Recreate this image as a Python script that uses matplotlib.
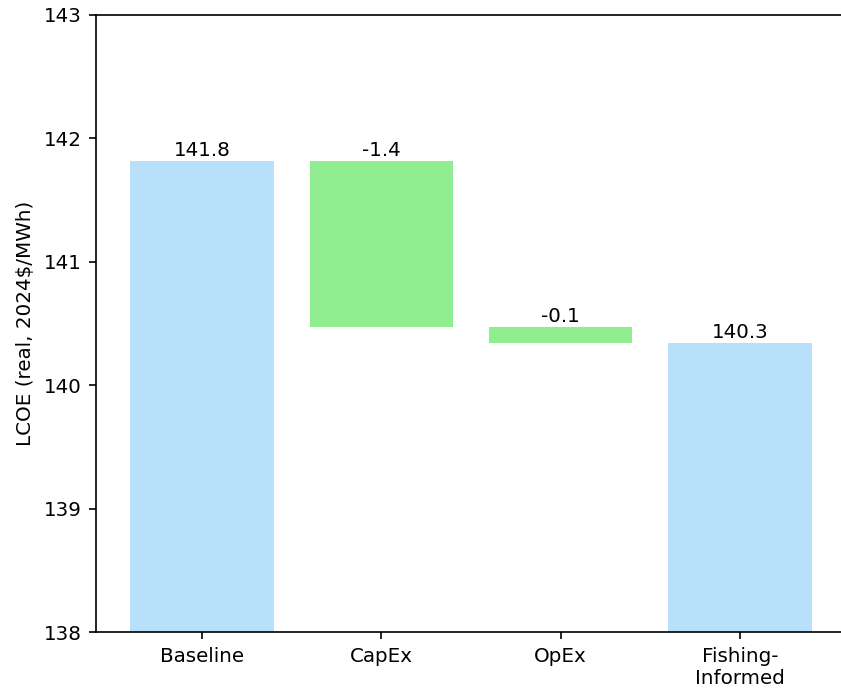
import matplotlib
matplotlib.use("Agg")
import matplotlib.pyplot as plt
import numpy as np

# LCOE waterfall: baseline, cost deltas, resulting case
categories = ["Baseline", "CapEx", "OpEx", "Fishing-\nInformed"]
baseline = 141.82
deltas = [-1.35, -0.13]
final = 140.34

blue = "#b9e0fa"
green = "#90ee90"

plt.rcParams["font.size"] = 9.55

fig = plt.figure(figsize=(841 / 150, 692 / 150), dpi=150)
ax = fig.add_axes([96 / 841, 60 / 692, 750 / 841, 617 / 692])

x = np.arange(len(categories))

# Build the floating bars
bottoms = []
heights = []
colors = []
labels = []
ymin = 138

bottoms.append(ymin)
heights.append(baseline - ymin)
colors.append(blue)
labels.append((baseline, f"{baseline:.1f}"))

level = baseline
for d in deltas:
    new = level + d
    bottoms.append(min(level, new))
    heights.append(abs(d))
    colors.append(green if d < 0 else "#f08080")
    labels.append((max(level, new), f"{d:.1f}"))
    level = new

bottoms.append(ymin)
heights.append(final - ymin)
colors.append(blue)
labels.append((final, f"{final:.1f}"))

ax.bar(x, heights, bottom=bottoms, color=colors, width=0.8)

for xi, (top, txt) in zip(x, labels):
    ax.annotate(txt, (xi, top), xytext=(0, 0.5), textcoords="offset points",
                ha="center", va="bottom")

ax.set_ylim(138, 143)
ax.set_xticks(x)
ax.set_xticklabels(categories)
ax.set_ylabel("LCOE (real, 2024$/MWh)")

fig.savefig("out.png", dpi=150)
